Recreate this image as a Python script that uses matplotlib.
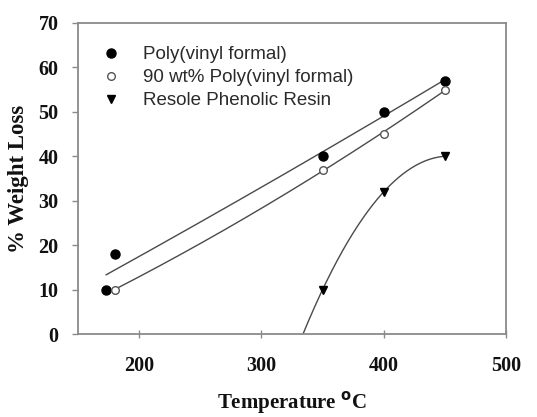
import numpy as np
import matplotlib
matplotlib.use("Agg")
import matplotlib.pyplot as plt
from matplotlib.lines import Line2D

# Thermogravimetric weight loss vs. temperature
pvf_temp = [173, 180, 350, 400, 450]
pvf_loss = [10, 18, 40, 50, 57]

blend_temp = [180, 350, 400, 450]
blend_loss = [10, 37, 45, 55]

resole_temp = [350, 400, 450]
resole_loss = [10, 32, 40]

labels = ["Poly(vinyl formal)", "90 wt% Poly(vinyl formal)", "Resole Phenolic Resin"]
x_ticks = [200, 300, 400, 500]
y_ticks = [0, 10, 20, 30, 40, 50, 60, 70]

serif = ["Liberation Serif", "DejaVu Serif"]
sans = ["Liberation Sans", "DejaVu Sans"]
line_color = "#4a4a4a"
spine_color = "#8a8a8a"

fig = plt.figure(figsize=(5.37, 4.17), dpi=100)
ax = fig.add_axes([0.1453, 0.199, 0.797, 0.746])


def quad_fit(x, y):
    coef = np.polyfit(x, y, 2)
    xs = np.linspace(min(x), max(x), 200)
    return xs, np.polyval(coef, xs)


# regression curves
xs, ys = quad_fit(pvf_temp, pvf_loss)
ax.plot(xs, ys, color=line_color, lw=1.0, zorder=2)
xs, ys = quad_fit(blend_temp, blend_loss)
ax.plot(xs, ys, color=line_color, lw=1.0, zorder=2)

coef = np.polyfit(resole_temp, resole_loss, 2)
roots = np.roots(coef)
root = min(r.real for r in roots if min(resole_temp) - 100 < r.real < min(resole_temp))
xs = np.linspace(root, max(resole_temp), 200)
ax.plot(xs, np.polyval(coef, xs), color=line_color, lw=1.0, zorder=2)

# data points
ax.plot(pvf_temp, pvf_loss, "o", ms=6.5, mfc="black", mec="black", zorder=4)
ax.plot(blend_temp, blend_loss, "o", ms=5.5, mfc="white", mec="#555555", mew=1.0, zorder=5)
ax.plot(resole_temp, resole_loss, "v", ms=6.0, mfc="black", mec="black", zorder=4)

ax.set_xlim(150, 500)
ax.set_ylim(0, 70)
ax.set_xticks(x_ticks)
ax.set_yticks(y_ticks)

for s in ax.spines.values():
    s.set_color(spine_color)
    s.set_linewidth(1.3)

ax.tick_params(axis="both", colors=spine_color, length=4, width=1.0)
ax.tick_params(axis="y", direction="out", pad=10)
ax.tick_params(axis="x", direction="inout", length=6, pad=13)
for lab in ax.get_xticklabels() + ax.get_yticklabels():
    lab.set_fontfamily(serif)
    lab.set_fontweight("bold")
    lab.set_fontsize(14.5)
    lab.set_color("#111111")

ax.set_xlabel("Temperature $^{\\mathbf{o}}$C", fontfamily=serif, fontweight="bold",
              fontsize=15, color="#111111", labelpad=9)
ax.set_ylabel("% Weight Loss", fontfamily=serif, fontweight="bold",
              fontsize=16.5, color="#111111", labelpad=7)

handles = [
    Line2D([], [], ls="none", marker="o", ms=6.5, mfc="black", mec="black"),
    Line2D([], [], ls="none", marker="o", ms=5.5, mfc="white", mec="#555555"),
    Line2D([], [], ls="none", marker="v", ms=6.0, mfc="black", mec="black"),
]
leg = ax.legend(handles, labels, loc="upper left", bbox_to_anchor=(0.016, 0.98),
                frameon=False, handlelength=1.0, handletextpad=1.2,
                labelspacing=0.32, prop={"family": sans, "size": 13.5})
for t in leg.get_texts():
    t.set_color("#2a2a2a")

fig.savefig("out.png", dpi=100)
